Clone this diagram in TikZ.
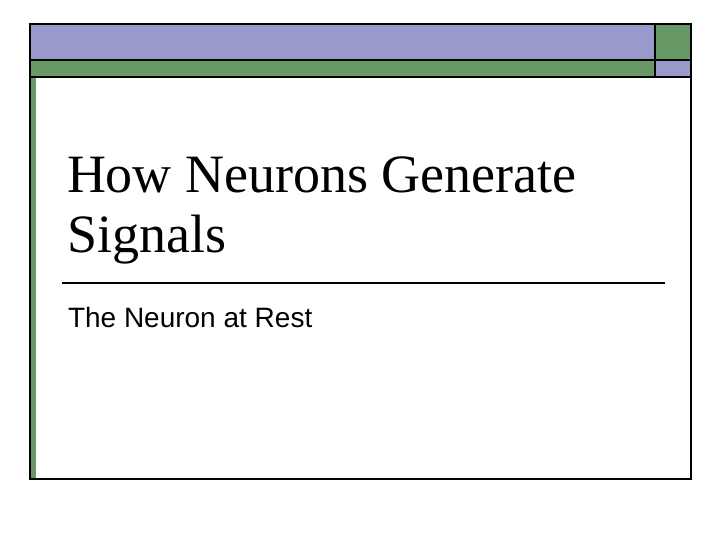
\documentclass[tikz,border=0pt]{standalone}
\usepackage{fontspec}
\setmainfont{Liberation Serif}
\newfontfamily\arial{Liberation Sans}
\definecolor{pur}{RGB}{153,153,204}
\definecolor{grn}{RGB}{102,153,102}
\begin{document}
\begin{tikzpicture}[x=0.75pt,y=-0.75pt,line width=1.5pt]
\useasboundingbox (0,0) rectangle (720,540);
\fill[white] (0,0) rectangle (720,540);
\fill[pur] (30,24) rectangle (655,60);
\fill[grn] (655,24) rectangle (691,60);
\fill[grn] (30,60) rectangle (655,77);
\fill[pur] (655,60) rectangle (691,77);
\fill[grn] (30,77) rectangle (36,479);
\draw (30,24) rectangle (691,479);
\draw (30,60) -- (691,60);
\draw (30,77) -- (691,77);
\draw (655,24) -- (655,77);
\draw[line width=1pt] (62,283) -- (665,283);
\node[anchor=base west,inner sep=0,align=left,font=\fontsize{40.5}{45}\selectfont] (t) at (66,252) {How Neurons Generate\\Signals};
\node[anchor=base west,inner sep=0,font=\arial\fontsize{21}{25}\selectfont] (s) at (67,327) {The Neuron at Rest};
\end{tikzpicture}
\end{document}
